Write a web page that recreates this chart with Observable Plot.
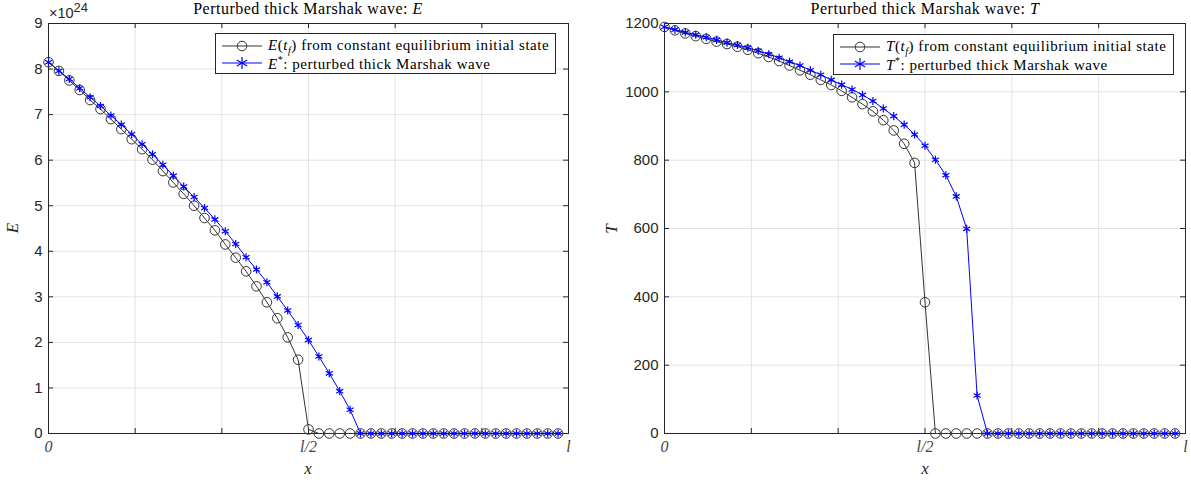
<!DOCTYPE html>
<html><head><meta charset="utf-8">
<script src="https://cdn.jsdelivr.net/npm/d3@7"></script>
<script src="https://cdn.jsdelivr.net/npm/@observablehq/plot@0.6"></script>
<style>
body{margin:0;background:#fff;}
#wrap{position:relative;width:1191px;height:484px;overflow:hidden;background:#fff;}
.panel{position:absolute;top:0;}
.serif{font-family:"Liberation Serif","Times New Roman",serif;color:#262626;}
.title{position:absolute;font-size:16px;letter-spacing:0.5px;white-space:nowrap;transform:translateX(-50%);line-height:18px;color:#000;}
.xlab{position:absolute;font-size:17px;font-style:italic;transform:translateX(-50%);line-height:18px;}
.ylab{position:absolute;font-size:17px;font-style:italic;transform:translate(-50%,-50%) rotate(-90deg);line-height:18px;}
.expo{position:absolute;font-family:"Liberation Sans",Arial,sans-serif;font-size:14.5px;color:#262626;line-height:16px;}
.legend{position:absolute;border:1px solid #262626;background:#fff;box-sizing:border-box;}
.row{position:absolute;left:0;height:18px;display:flex;align-items:center;white-space:nowrap;font-size:15px;letter-spacing:0.55px;color:#000;}
.row svg{margin-left:6px;margin-right:6px;}
</style>
</head><body>
<div id="wrap"></div>
<script>
// ---- data ----
const nPoints = 50; // samples at x = i*l/50
const xTicks = [0, 1/6, 2/6, 3/6, 4/6, 5/6, 1];
const xTickLabels = ["0", "", "", "l/2", "", "", "l"];

const eTicks = [0,1,2,3,4,5,6,7,8,9];
const tTicks = [0,200,400,600,800,1000,1200];

// E in units of 1e24
const E_const = [8.15,7.96,7.75,7.54,7.32,7.12,6.90,6.68,6.46,6.24,6.01,5.76,5.51,5.26,5.00,4.73,4.46,4.15,3.86,3.56,3.23,2.88,2.53,2.11,1.62,0.09,
  0,0,0,0,0,0,0,0,0,0,0,0,0,0,0,0,0,0,0,0,0,0,0,0];
const E_pert = [8.15,7.96,7.78,7.58,7.38,7.19,6.98,6.78,6.57,6.35,6.13,5.90,5.66,5.42,5.19,4.95,4.70,4.44,4.16,3.87,3.60,3.32,3.01,2.70,2.38,2.05,1.69,1.32,0.93,0.52,
  0,0,0,0,0,0,0,0,0,0,0,0,0,0,0,0,0,0,0,0];
const T_const = [1190,1180,1171,1163,1155,1147,1140,1132,1123,1113,1102,1090,1077,1063,1050,1035,1020,1003,984,964,943,917,887,848,792,384,
  0,0,0,0,0,0,0,0,0,0,0,0,0,0,0,0,0,0,0,0,0,0,0,0];
const T_pert = [1190,1182,1174,1167,1160,1152,1144,1137,1129,1120,1110,1100,1088,1077,1063,1050,1035,1021,1007,991,973,951,929,904,875,842,801,756,694,599,111,
  0,0,0,0,0,0,0,0,0,0,0,0,0,0,0,0,0,0,0];

const toRows = arr => arr.map((v, i) => ({x: i / nPoints, y: v}));

const INK = "#262626";
const H = 484, MT = 23, MB = 51;

function panel({left, width, marginLeft, marginRight, yDomain, yTicks, constVals, pertVals}) {
  const plotW = width - marginLeft - marginRight;
  const plotH = H - MT - MB;
  const fmtX = d => xTickLabels[xTicks.findIndex(t => Math.abs(t - d) < 1e-9)];
  const chart = Plot.plot({
    width, height: H, marginLeft, marginRight, marginTop: MT, marginBottom: MB,
    x: {domain: [0, 1]},
    y: {domain: yDomain},
    style: {background: "transparent", overflow: "visible"},
    marks: [
      Plot.gridX(xTicks, {stroke: "#e3e3e3", strokeOpacity: 1}),
      Plot.gridY(yTicks, {stroke: "#e3e3e3", strokeOpacity: 1}),
      Plot.frame({stroke: INK}),
      Plot.tickY(yTicks, {y: d => d, stroke: INK, insetRight: plotW - 5}),
      Plot.tickY(yTicks, {y: d => d, stroke: INK, insetLeft: plotW - 5}),
      Plot.tickX(xTicks, {x: d => d, stroke: INK, insetTop: plotH - 5}),
      Plot.tickX(xTicks, {x: d => d, stroke: INK, insetBottom: plotH - 5}),
      Plot.axisY(yTicks, {tickSize: 0, tickPadding: 6, fontSize: 15, fontFamily: "Liberation Sans, Arial, sans-serif", color: INK, label: null, tickFormat: d => String(d)}),
      Plot.axisX(xTicks, {tickSize: 0, tickPadding: 7, fontSize: 16, fontFamily: "Liberation Serif, serif", fontStyle: "italic", color: "#444", label: null, tickFormat: fmtX}),
      Plot.line(toRows(constVals), {x: "x", y: "y", stroke: "#333", strokeWidth: 1}),
      Plot.dot(toRows(constVals), {x: "x", y: "y", r: 4.8, stroke: "#333", fill: "none", strokeWidth: 1}),
      Plot.line(toRows(pertVals), {x: "x", y: "y", stroke: "#0000ff", strokeWidth: 1}),
      Plot.dot(toRows(pertVals), {x: "x", y: "y", symbol: "asterisk", r: 3.8, stroke: "#0000ff", strokeWidth: 1.2})
    ]
  });
  chart.classList.add("panel");
  chart.style.left = left + "px";
  return chart;
}

const wrap = document.getElementById("wrap");
wrap.appendChild(panel({left: 0, width: 595, marginLeft: 48, marginRight: 27, yDomain: [0, 9], yTicks: eTicks, constVals: E_const, pertVals: E_pert}));
wrap.appendChild(panel({left: 595, width: 596, marginLeft: 69, marginRight: 6, yDomain: [0, 1200], yTicks: tTicks, constVals: T_const, pertVals: T_pert}));

function addHTML(html) { wrap.insertAdjacentHTML("beforeend", html); }

// titles
addHTML(`<div class="title serif" style="left:308px;top:0px">Perturbed thick Marshak wave: <i>E</i></div>`);
addHTML(`<div class="title serif" style="left:925px;top:0px">Perturbed thick Marshak wave: <i>T</i></div>`);
// axis labels
addHTML(`<div class="xlab serif" style="left:308px;top:460px">x</div>`);
addHTML(`<div class="xlab serif" style="left:925px;top:460px">x</div>`);
addHTML(`<div class="ylab serif" style="left:13px;top:228px">E</div>`);
addHTML(`<div class="ylab serif" style="left:612px;top:229px">T</div>`);
// exponent
addHTML(`<div class="expo" style="left:49px;top:5px">×10<span style="font-size:13px;position:relative;top:-6px">24</span></div>`);

const circleSample = `<svg width="40" height="18"><line x1="0" x2="40" y1="9" y2="9" stroke="#333"/><circle cx="20" cy="9" r="4.8" fill="none" stroke="#333"/></svg>`;
const starSample = `<svg width="40" height="18"><line x1="0" x2="40" y1="9" y2="9" stroke="#0000ff"/><g stroke="#0000ff" stroke-width="1.2"><line x1="20" x2="20" y1="3" y2="15"/><line x1="14.8" x2="25.2" y1="6" y2="12"/><line x1="14.8" x2="25.2" y1="12" y2="6"/></g></svg>`;

function legend(left, top, sym) {
  addHTML(`<div class="legend serif" style="left:${left}px;top:${top}px;width:341px;height:41px">
    <div class="row" style="top:3px">${circleSample}<span><i>${sym}</i>(<i>t<sub style="font-size:10px">f</sub></i>) from constant equilibrium initial state</span></div>
    <div class="row" style="top:20px">${starSample}<span><i>${sym}</i><sup style="font-size:10px">*</sup>: perturbed thick Marshak wave</span></div>
  </div>`);
}
legend(215, 33, "E");
legend(833, 34, "T");
</script>
</body></html>
